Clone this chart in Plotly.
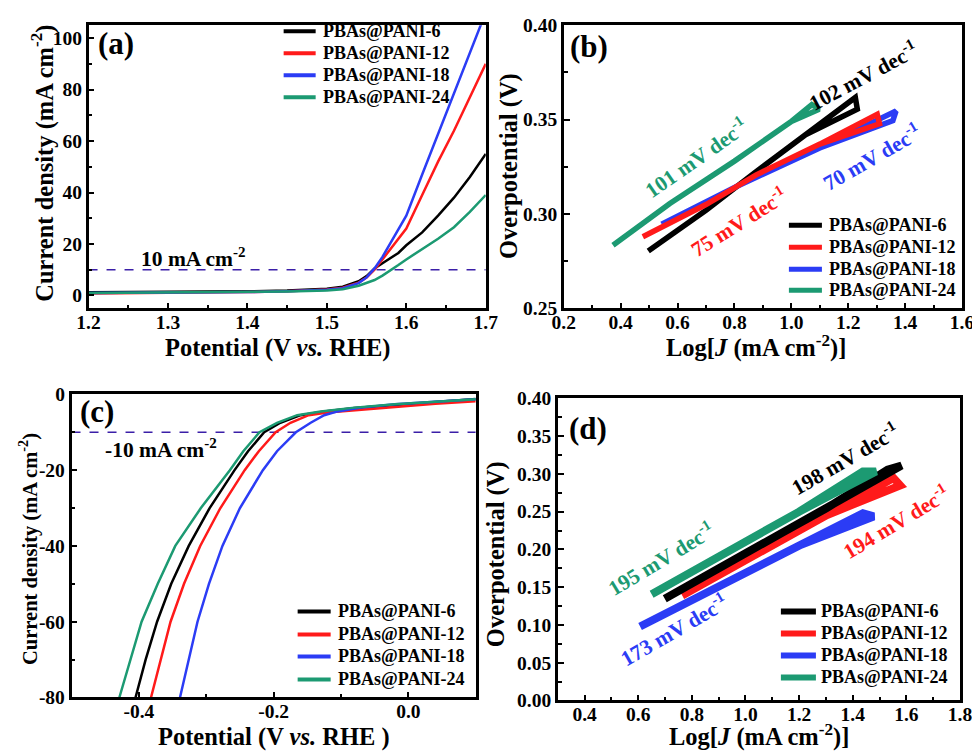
import plotly.graph_objects as go

W, H = 980, 753
FONT = "Liberation Serif"
# the page is photographed with a small offset and shrink; positions below are in picture pixels
OX, OY, SX, SY = 19.5, 16.8, 0.975, 0.9717

names = ["PBAs@PANI-6", "PBAs@PANI-12", "PBAs@PANI-18", "PBAs@PANI-24"]
colors = ["#000000", "#ff1a1a", "#2b3cf5", "#1c9a72"]
dash_color = "#3b1fa8"

# (a) OER polarization
oer_v = [1.20, 1.30, 1.40, 1.45, 1.50, 1.52, 1.54, 1.55, 1.56, 1.57, 1.58, 1.59, 1.60, 1.62, 1.64, 1.66, 1.68, 1.70]
oer_j6 = [1.2, 1.3, 1.6, 1.9, 2.6, 3.4, 5.5, 7.5, 10.5, 12.5, 14.5, 16.5, 19.5, 24.5, 31, 38, 46, 55]
oer_j12 = [0.8, 1.0, 1.3, 1.6, 2.3, 3.0, 5.0, 7.0, 10.0, 14, 18, 22, 26, 39, 52, 64, 77, 90]
oer_j18 = [1.0, 1.1, 1.3, 1.6, 2.2, 2.8, 4.8, 7.0, 10.5, 15, 20.5, 26, 31, 47, 63, 79, 95, 110]
oer_j24 = [1.0, 1.1, 1.3, 1.5, 1.9, 2.4, 3.8, 4.8, 6.0, 7.7, 9.6, 11.8, 14, 18, 22, 26.5, 32.5, 39]
oer_ref = 10

# (b) OER Tafel: forward branch, plus the end point of the return branch
tb_x6 = [0.497, 0.70, 0.875, 1.05, 1.225]
tb_y6 = [0.2804, 0.302, 0.3223, 0.342, 0.3617]
tb_tip6 = [1.232, 0.3555]
tb_x12 = [0.478, 0.70, 0.875, 1.10, 1.302]
tb_y12 = [0.2879, 0.305, 0.3206, 0.337, 0.3528]
tb_tip12 = [1.31, 0.3478]
tb_x18 = [0.544, 0.80, 1.10, 1.368]
tb_y18 = [0.2946, 0.314, 0.335, 0.3545]
tb_tip18 = [1.357, 0.3495]
tb_x24 = [0.373, 0.45, 0.573, 0.80, 1.00, 1.072]
tb_y24 = [0.2834, 0.292, 0.3055, 0.328, 0.349, 0.3579]
tb_tip24 = [1.098, 0.3555]
tb_labels = ["102 mV dec<sup>-1</sup>", "75 mV dec<sup>-1</sup>", "70 mV dec<sup>-1</sup>", "101 mV dec<sup>-1</sup>"]

# (c) HER polarization
her_v6 = [-0.405, -0.39, -0.373, -0.352, -0.326, -0.295, -0.258, -0.238, -0.214, -0.19, -0.16, -0.125, -0.08, -0.02, 0.04, 0.1]
her_j6 = [-80, -70, -60, -50, -40, -30, -20, -15, -10, -7.5, -5.5, -4.5, -3.6, -2.8, -2.0, -1.2]
her_v12 = [-0.382, -0.368, -0.353, -0.333, -0.309, -0.279, -0.243, -0.222, -0.197, -0.175, -0.148, -0.12, -0.08, -0.02, 0.04, 0.1]
her_j12 = [-80, -70, -60, -50, -40, -30, -20, -15, -10, -7.5, -5.5, -4.8, -4.2, -3.3, -2.5, -1.8]
her_v18 = [-0.339, -0.326, -0.313, -0.296, -0.276, -0.250, -0.216, -0.195, -0.167, -0.145, -0.125, -0.105, -0.07, -0.02, 0.04, 0.1]
her_j18 = [-80, -70, -60, -50, -40, -30, -20, -15, -10, -7.5, -5.5, -4.5, -3.5, -2.6, -1.9, -1.3]
her_v24 = [-0.429, -0.413, -0.396, -0.372, -0.346, -0.308, -0.265, -0.245, -0.221, -0.195, -0.165, -0.13, -0.08, -0.02, 0.04, 0.1]
her_j24 = [-80, -70, -60, -50, -40, -30, -20, -15, -10, -7.5, -5.5, -4.5, -3.5, -2.6, -2.0, -1.3]
her_ref = -10
her_xticks = [-0.4, -0.2, 0.0]
her_xtext = ["-0.4", "-0.2", "0.0"]
her_yticks = [0, -20, -40, -60, -80]
her_ytext = ["0", "-20", "-40", "-60", "-80"]

# (d) HER Tafel
td_x6 = [0.699, 1.0, 1.3, 1.582]
td_y6 = [0.1347, 0.195, 0.254, 0.311]
td_tip6 = [1.53, 0.3055]
td_x12 = [0.764, 1.0, 1.3, 1.552]
td_y12 = [0.139, 0.186, 0.245, 0.2945]
td_tip12 = [1.577, 0.2848]
td_x18 = [0.607, 0.9, 1.2, 1.438]
td_y18 = [0.098, 0.152, 0.205, 0.248]
td_tip18 = [1.478, 0.2437]
td_x24 = [0.650, 0.9, 1.2, 1.438]
td_y24 = [0.1408, 0.19, 0.25, 0.3033]
td_tip24 = [1.487, 0.3033]
td_labels = ["198 mV dec<sup>-1</sup>", "194 mV dec<sup>-1</sup>", "173 mV dec<sup>-1</sup>", "195 mV dec<sup>-1</sup>"]


def px(x):
    return (x - OX) / SX / W


def py(y):
    return 1 - (y - OY) / SY / H


def fork(xs, ys, tip):
    # forward scan up to the end, then back from the second end point
    return xs + [tip[0]] + xs[-2::-1], ys + [tip[1]] + ys[-2::-1]


fig = go.Figure()

# reference lines
fig.add_trace(go.Scatter(x=[1.2, 1.7], y=[oer_ref, oer_ref], mode="lines", xaxis="x", yaxis="y",
                         line=dict(color=dash_color, width=1.6, dash="dash"), showlegend=False))
fig.add_trace(go.Scatter(x=[-0.5, 0.1], y=[her_ref, her_ref], mode="lines", xaxis="x3", yaxis="y3",
                         line=dict(color=dash_color, width=1.6, dash="dash"), showlegend=False))

oer_j = [oer_j6, oer_j12, oer_j18, oer_j24]
her = [(her_v6, her_j6), (her_v12, her_j12), (her_v18, her_j18), (her_v24, her_j24)]
tb = [fork(tb_x6, tb_y6, tb_tip6), fork(tb_x12, tb_y12, tb_tip12),
      fork(tb_x18, tb_y18, tb_tip18), fork(tb_x24, tb_y24, tb_tip24)]
td = [fork(td_x6, td_y6, td_tip6), fork(td_x12, td_y12, td_tip12),
      fork(td_x18, td_y18, td_tip18), fork(td_x24, td_y24, td_tip24)]

for i in range(4):
    fig.add_trace(go.Scatter(x=oer_v, y=oer_j[i], mode="lines", name=names[i], xaxis="x", yaxis="y",
                             line=dict(color=colors[i], width=2.5), showlegend=False))
    fig.add_trace(go.Scatter(x=her[i][0], y=her[i][1], mode="lines", name=names[i], xaxis="x3", yaxis="y3",
                             line=dict(color=colors[i], width=2.5), showlegend=False))

# tafel plots: draw order black, blue, red, green
for i in [0, 2, 1, 3]:
    fig.add_trace(go.Scatter(x=tb[i][0], y=tb[i][1], mode="lines", name=names[i], xaxis="x2", yaxis="y2",
                             line=dict(color=colors[i], width=5.5), showlegend=False))
for i in [2, 1, 0, 3]:
    fig.add_trace(go.Scatter(x=td[i][0], y=td[i][1], mode="lines", name=names[i], xaxis="x4", yaxis="y4",
                             line=dict(color=colors[i], width=8), showlegend=False))

tickfont = dict(family=FONT, size=19.5, color="black", weight="bold")


def axis(domain, rng, anchor, **kw):
    d = dict(domain=domain, range=rng, anchor=anchor, showline=True, linecolor="black", linewidth=2.5,
             mirror=True, ticks="inside", ticklen=6, tickwidth=2, tickcolor="black", showgrid=False,
             zeroline=False, tickfont=tickfont)
    d.update(kw)
    return d


minor = lambda step: dict(ticks="inside", ticklen=4, tickwidth=2, tickcolor="black", dtick=step)

fig.update_layout(
    width=W, height=H, margin=dict(l=0, r=0, t=0, b=0),
    paper_bgcolor="white", plot_bgcolor="white", showlegend=False,
    xaxis=axis([px(88), px(485)], [1.2, 1.7], "y", tick0=1.2, dtick=0.1, tickformat=".1f",
               minor=minor(0.05), ticklabelstandoff=-5),
    yaxis=axis([py(307), py(24)], [-5, 105], "x", tick0=0, dtick=20, minor=minor(10)),
    xaxis2=axis([px(563), px(961)], [0.2, 1.6], "y2", tick0=0.2, dtick=0.2, tickformat=".1f",
                minor=minor(0.1), ticklabelstandoff=-5),
    yaxis2=axis([py(307), py(24)], [0.25, 0.40], "x2", tick0=0.25, dtick=0.05, tickformat=".2f", minor=minor(0.025)),
    xaxis3=axis([px(71), px(475)], [-0.5, 0.1], "y3", tickvals=her_xticks, ticktext=her_xtext,
                minor=minor(0.1), ticklabelstandoff=-6),
    yaxis3=axis([py(696), py(393)], [-80, 0], "x3", tickvals=her_yticks, ticktext=her_ytext, minor=minor(10)),
    xaxis4=axis([px(557), px(959)], [0.3, 1.8], "y4", tick0=0.4, dtick=0.2, tickformat=".1f",
                minor=minor(0.1), ticklabelstandoff=-6),
    yaxis4=axis([py(699), py(397)], [0, 0.40], "x4", tick0=0, dtick=0.05, tickformat=".2f", minor=minor(0.025)),
)

title_font = dict(family=FONT, size=24.5, color="black", weight="bold")
label_font = dict(family=FONT, size=31, color="black", weight="bold")


def note(text, x, y, font, angle=0, anchor="center"):
    fig.add_annotation(text=text, x=px(x), y=py(y), xref="paper", yref="paper", showarrow=False,
                       font=font, textangle=angle, xanchor=anchor, yanchor="middle")


# axis titles
note("Potential (V <i>vs.</i> RHE)", 277, 347, title_font)
note("Current density (mA cm<sup>-2</sup>)", 42, 162, title_font, -90)
note("Log[<i>J</i> (mA cm<sup>-2</sup>)]", 755, 345, title_font)
note("Overpotential (V)", 509, 165, title_font, -90)
note("Potential (V <i>vs.</i> RHE )", 273, 735, title_font)
note("Current density (mA cm<sup>-2</sup>)", 28, 548, dict(title_font, size=20.5), -90)
note("Log[<i>J</i> (mA cm<sup>-2</sup>)]", 758, 734, title_font)
note("Overpotential (V)", 496, 553, title_font, -90)

# panel labels
note("(a)", 115, 42, label_font)
note("(b)", 588, 45, label_font)
note("(c)", 96, 410, label_font)
note("(d)", 587, 427, label_font)

# reference line labels
ref_font = dict(family=FONT, size=21.5, color="black", weight="bold")
note("10 mA cm<sup>-2</sup>", 193, 256, ref_font)
note("-10 mA cm<sup>-2</sup>", 160, 447, ref_font)

# slope labels
tb_pos = [(862, 74, -28), (738, 220, -32), (871, 155, -30), (695, 156, -35)]
td_pos = [(844, 457, -30), (895, 520, -31), (673, 628, -30), (660, 557, -31)]
for i in range(4):
    x, y, a = tb_pos[i]
    note(tb_labels[i], x, y, dict(family=FONT, size=21.5, color=colors[i], weight="bold"), a)
    x, y, a = td_pos[i]
    note(td_labels[i], x, y, dict(family=FONT, size=21.5, color=colors[i], weight="bold"), a)

# legends: sample line + label, one block per panel
legend_font = dict(family=FONT, size=18, color="black", weight="bold")
legend_boxes = [(283, 315, 320, [30, 52, 74, 96], 4), (788, 821, 826, [224, 246, 268, 289], 5),
                (297, 330, 335, [610, 633, 655, 678], 4), (780, 815, 818, [610, 632, 654, 676], 6)]
for x0, x1, xt, rows, lw in legend_boxes:
    for i in range(4):
        fig.add_shape(type="line", xref="paper", yref="paper", x0=px(x0), x1=px(x1), y0=py(rows[i]), y1=py(rows[i]),
                      line=dict(color=colors[i], width=lw))
        note(names[i], xt, rows[i], legend_font, anchor="left")

fig.write_html("out.html")
